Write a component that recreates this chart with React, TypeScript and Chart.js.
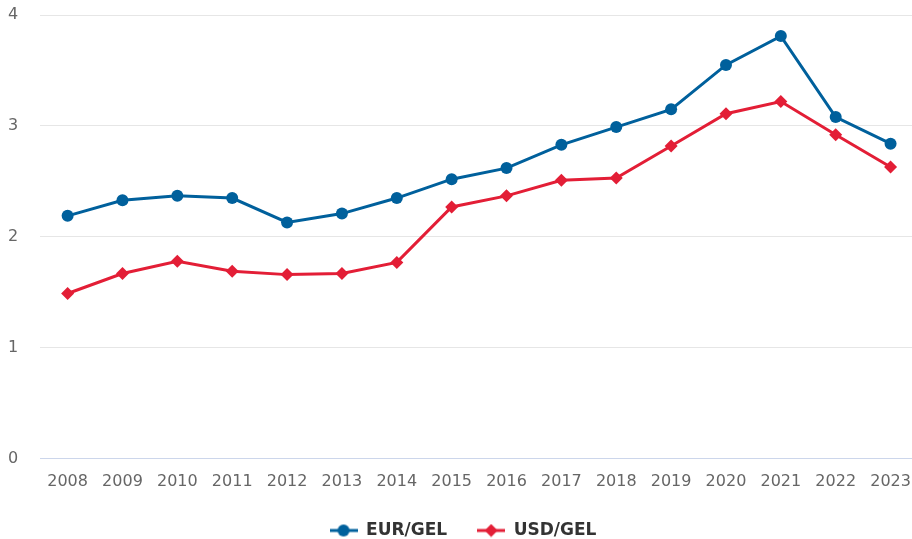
import React, { useEffect, useRef } from "react";
import { Chart, registerables } from "chart.js";

Chart.register(...registerables);

const years = ["2008","2009","2010","2011","2012","2013","2014","2015","2016","2017","2018","2019","2020","2021","2022","2023"];
const eurGel = [2.19, 2.33, 2.37, 2.35, 2.13, 2.21, 2.35, 2.52, 2.62, 2.83, 2.99, 3.15, 3.55, 3.81, 3.08, 2.84];
const usdGel = [1.49, 1.67, 1.78, 1.69, 1.66, 1.67, 1.77, 2.27, 2.37, 2.51, 2.53, 2.82, 3.11, 3.22, 2.92, 2.63];
const seriesNames = ["EUR/GEL", "USD/GEL"];
const yTicks = [0, 1, 2, 3, 4];

const BLUE = "#00609c";
const RED = "#e31e36";
const FONT = "'DejaVu Sans', sans-serif";

function legendIcon(color: string, style: "circle" | "diamond"): HTMLCanvasElement {
  const c = document.createElement("canvas");
  c.width = 28;
  c.height = 14;
  const ctx = c.getContext("2d")!;
  ctx.strokeStyle = color;
  ctx.lineWidth = 3;
  ctx.beginPath();
  ctx.moveTo(0, 7);
  ctx.lineTo(28, 7);
  ctx.stroke();
  ctx.fillStyle = color;
  ctx.beginPath();
  if (style === "circle") {
    ctx.arc(14, 7, 6, 0, Math.PI * 2);
  } else {
    ctx.moveTo(14, 0.5);
    ctx.lineTo(20.5, 7);
    ctx.lineTo(14, 13.5);
    ctx.lineTo(7.5, 7);
    ctx.closePath();
  }
  ctx.fill();
  return c;
}

export default function App() {
  const ref = useRef<HTMLCanvasElement | null>(null);

  useEffect(() => {
    if (!ref.current) return;
    const icons = [legendIcon(BLUE, "circle"), legendIcon(RED, "diamond")];
    const chart = new Chart(ref.current, {
      type: "line",
      data: {
        labels: years,
        datasets: [
          {
            label: seriesNames[0],
            data: eurGel,
            borderColor: BLUE,
            backgroundColor: BLUE,
            borderWidth: 3,
            pointStyle: "circle",
            pointRadius: 6,
            pointBorderWidth: 0,
            pointBackgroundColor: BLUE,
            tension: 0,
          },
          {
            label: seriesNames[1],
            data: usdGel,
            borderColor: RED,
            backgroundColor: RED,
            borderWidth: 3,
            pointStyle: "rectRot",
            pointRadius: 6.5,
            pointBorderWidth: 0,
            pointBackgroundColor: RED,
            tension: 0,
          },
        ],
      },
      options: {
        responsive: false,
        animation: false,
        layout: { padding: { left: 8, right: 13, top: 15, bottom: -10 } },
        scales: {
          x: {
            offset: true,
            grid: { display: false, drawTicks: false },
            border: { display: false },
            ticks: {
              color: "#666666",
              font: { family: FONT, size: 16 },
              padding: 13,
              maxRotation: 0,
              autoSkip: false,
            },
            afterFit: (s: any) => {
              s.paddingLeft = 0;
              s.paddingRight = 0;
              s.height = s.height - 12;
            },
          },
          y: {
            min: 0,
            max: 4,
            afterBuildTicks: (s: any) => {
              s.ticks = yTicks.map((v) => ({ value: v }));
            },
            afterFit: (s: any) => {
              s.paddingTop = 0;
              s.paddingBottom = 0;
            },
            grid: {
              drawTicks: false,
              color: (ctx: any) => (ctx.tick && ctx.tick.value === 0 ? "#ccd6eb" : "#e6e6e6"),
              lineWidth: 1,
            },
            border: { display: false },
            ticks: {
              color: "#666666",
              font: { family: FONT, size: 16 },
              padding: 11,
              crossAlign: "far",
            },
          },
        },
        plugins: {
          tooltip: { enabled: false },
          legend: {
            position: "bottom",
            labels: {
              usePointStyle: true,
              pointStyleWidth: 28,
              padding: 30,
              color: "#333333",
              font: { family: FONT, size: 17, weight: "bold" },
              generateLabels: (ch: any) =>
                ch.data.datasets.map((d: any, i: number) => ({
                  text: d.label,
                  pointStyle: icons[i],
                  fillStyle: d.borderColor,
                  strokeStyle: d.borderColor,
                  fontColor: "#333333",
                  lineWidth: 0,
                  hidden: false,
                  datasetIndex: i,
                })),
            },
          },
        },
      },
    });
    return () => chart.destroy();
  }, []);

  return (
    <div style={{ position: "fixed", left: 0, top: 0, width: 912, height: 539, overflow: "hidden", background: "#fff" }}>
      <canvas ref={ref} width={931} height={539} style={{ display: "block" }} />
    </div>
  );
}
